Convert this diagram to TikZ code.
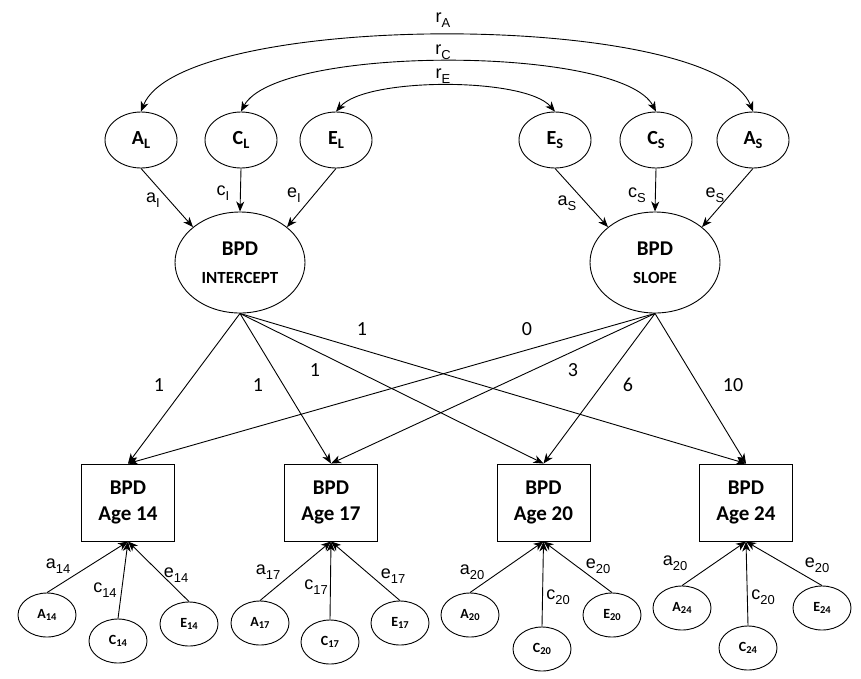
\documentclass[tikz,border=0pt]{standalone}
\usepackage{fontspec}
\setmainfont{Carlito}
\newfontfamily\arialf{Liberation Sans}
\usetikzlibrary{shapes.geometric,arrows.meta}
\newcommand{\sbb}[1]{\raisebox{-0.23em}{\scalebox{0.72}{#1}}}
\newcommand{\sbs}[1]{\raisebox{-0.1em}{\scalebox{0.75}{#1}}}
\newcommand{\sbl}[1]{\raisebox{-0.25em}{\scalebox{0.72}{#1}}}
\tikzset{
  tip/.tip={Stealth[length=10pt,width=8pt,inset=3pt]},
  conn/.style={line width=0.9pt,-tip},
  dconn/.style={line width=0.9pt,tip-tip},
  topell/.style={draw,ellipse,line width=0.9pt,inner sep=0pt,minimum width=72pt,minimum height=56pt,font=\fontsize{20}{22}\selectfont\bfseries},
  bigell/.style={draw,ellipse,line width=0.9pt,inner sep=0pt,minimum width=130pt,minimum height=101pt,align=center,font=\fontsize{21}{28.4}\selectfont\bfseries},
  obsbox/.style={draw,rectangle,line width=0.9pt,inner sep=0pt,minimum width=93pt,minimum height=77pt,align=center,font=\fontsize{21}{26}\selectfont\bfseries},
  smell/.style={draw,ellipse,line width=0.9pt,inner sep=0pt,minimum width=58pt,minimum height=44pt,font=\fontsize{14}{16}\selectfont\bfseries},
  lbl/.style={inner sep=0pt,font=\arialf\fontsize{18}{20}\selectfont},
  num/.style={inner sep=0pt,font=\fontsize{20}{22}\selectfont}
}
\begin{document}
\begin{tikzpicture}[x=1pt,y=-1pt]
\useasboundingbox (0,0) rectangle (861,678);
% top latent factors
\node[topell] (AL) at (141,140) {A\sbb{L}};
\node[topell] (CL) at (241,140) {C\sbb{L}};
\node[topell] (EL) at (336,140) {E\sbb{L}};
\node[topell] (ES) at (555,140) {E\sbb{S}};
\node[topell] (CS) at (656,140) {C\sbb{S}};
\node[topell] (AS) at (753,140) {A\sbb{S}};
% correlations
\draw[dconn] (AL.north) .. controls (181,10) and (713,10) .. (AS.north);
\draw[dconn] (CL.north) .. controls (276,45) and (621,45) .. (CS.north);
\draw[dconn] (EL.north) .. controls (366,77) and (525,77) .. (ES.north);
\node[lbl] (rA) at (443,20) {r\sbl{A}};
\node[lbl] (rC) at (443,52) {r\sbl{C}};
\node[lbl] (rE) at (443,76) {r\sbl{E}};
% growth factors
\node[bigell] (INT) at (240,262.5) {BPD\\{\fontsize{17}{28.4}\selectfont INTERCEPT}};
\node[bigell] (SLP) at (655,262.5) {BPD\\{\fontsize{17}{28.4}\selectfont SLOPE}};
\draw[conn] (AL.south) -- (INT.143);
\draw[conn] (CL.south) -- (INT.north);
\draw[conn] (EL.south) -- (INT.37);
\draw[conn] (ES.south) -- (SLP.143);
\draw[conn] (CS.south) -- (SLP.north);
\draw[conn] (AS.south) -- (SLP.37);
\node[lbl] (laI) at (153,200) {a\sbl{I}};
\node[lbl] (lcI) at (223,193) {c\sbl{I}};
\node[lbl] (leI) at (294,195) {e\sbl{I}};
\node[lbl] (laS) at (567,203) {a\sbl{S}};
\node[lbl] (lcS) at (637,195) {c\sbl{S}};
\node[lbl] (leS) at (715,195) {e\sbl{S}};
% observed
\node[obsbox] (B14) at (128,502.5) {BPD\\Age 14};
\node[obsbox] (B17) at (331,502.5) {BPD\\Age 17};
\node[obsbox] (B20) at (543.5,502.5) {BPD\\Age 20};
\node[obsbox] (B24) at (746,502.5) {BPD\\Age 24};
\foreach \b in {B14,B17,B20,B24}{
  \draw[conn] (INT.south) -- (\b.north);
  \draw[conn] (SLP.south) -- (\b.north);
}
\node[num] (n1) at (159,385) {1};
\node[num] (n2) at (258,385) {1};
\node[num] (n3) at (315,370) {1};
\node[num] (n4) at (362,329) {1};
\node[num] (n5) at (527,329) {0};
\node[num] (n6) at (573,370) {3};
\node[num] (n7) at (628,385) {6};
\node[num] (n8) at (733,385) {10};
% residual ACE
\node[smell] (A14) at (47,615) {A\sbs{14}};
\node[smell] (C14) at (118,641) {C\sbs{14}};
\node[smell] (E14) at (189,624) {E\sbs{14}};
\node[smell] (A17) at (260,623) {A\sbs{17}};
\node[smell] (C17) at (330,642) {C\sbs{17}};
\node[smell] (E17) at (400,623) {E\sbs{17}};
\node[smell] (A20) at (470,615) {A\sbs{20}};
\node[smell] (C20) at (542,649) {C\sbs{20}};
\node[smell] (E20) at (612,615) {E\sbs{20}};
\node[smell] (A24) at (682,608) {A\sbs{24}};
\node[smell] (C24) at (748,648) {C\sbs{24}};
\node[smell] (E24) at (822,608) {E\sbs{24}};
\foreach \a/\b in {14/14,17/17,20/20,24/24}{
  \draw[conn] (A\a.north) -- (B\b.south);
  \draw[conn] (C\a.north) -- (B\b.south);
  \draw[conn] (E\a.north) -- (B\b.south);
}
\node[lbl] (la14) at (58,566) {a\sbl{14}};
\node[lbl] (lc14) at (105,590) {c\sbl{14}};
\node[lbl] (le14) at (176,575) {e\sbl{14}};
\node[lbl] (la17) at (268,572) {a\sbl{17}};
\node[lbl] (lc17) at (316,587) {c\sbl{17}};
\node[lbl] (le17) at (393,576) {e\sbl{17}};
\node[lbl] (la20) at (472,572) {a\sbl{20}};
\node[lbl] (lc20) at (558,597) {c\sbl{20}};
\node[lbl] (le20) at (598,566) {e\sbl{20}};
\node[lbl] (la24) at (675,563) {a\sbl{20}};
\node[lbl] (lc24) at (763,597) {c\sbl{20}};
\node[lbl] (le24) at (817,565) {e\sbl{20}};
\end{tikzpicture}
\end{document}
